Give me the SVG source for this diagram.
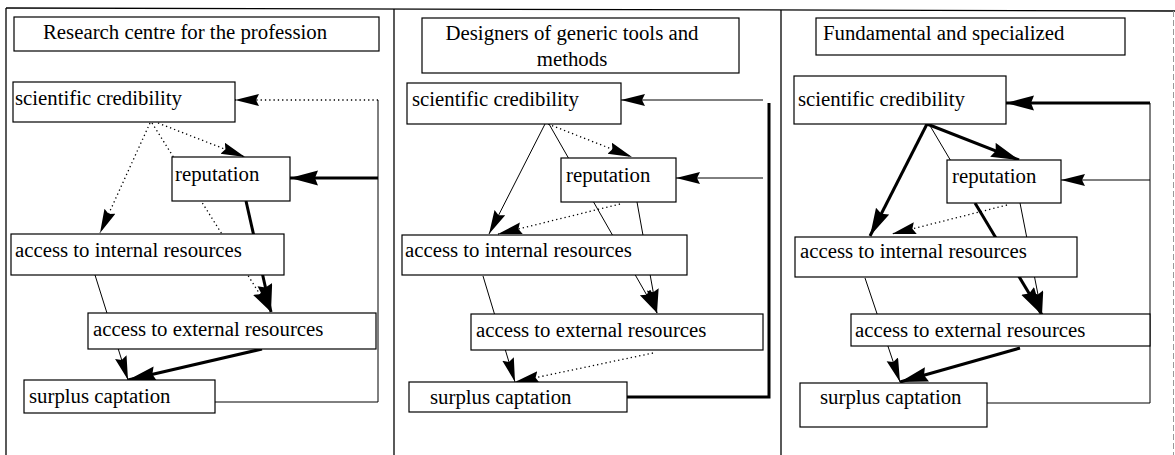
<svg xmlns="http://www.w3.org/2000/svg" width="1175" height="455" viewBox="0 0 1175 455">
<style>
  .frame{stroke:#000;stroke-width:1.3;fill:none}
  .box{fill:#fff;stroke:#000;stroke-width:1.2}
  .t{font-family:"Liberation Serif","Times New Roman",serif;font-size:20.8px;fill:#000}
  .thin{stroke:#000;stroke-width:1;fill:none}
  .thick{stroke:#000;stroke-width:3;fill:none}
  .dot{stroke:#000;stroke-width:1.3;stroke-dasharray:1.3 3;fill:none}
  .sm{marker-end:url(#ahs)}
  .bg{marker-end:url(#ahb)}
</style>
<defs>
  <marker id="ahs" markerUnits="userSpaceOnUse" markerWidth="26" markerHeight="14" refX="24" refY="6" orient="auto">
    <path d="M0,0 L24,6 L0,12 L3,6 Z" fill="#000"/>
  </marker>
  <marker id="ahb" markerUnits="userSpaceOnUse" markerWidth="30" markerHeight="16" refX="28" refY="7.5" orient="auto">
    <path d="M0,0 L28,7.5 L0,15 L3,7.5 Z" fill="#000"/>
  </marker>
</defs>
<rect width="1175" height="455" fill="#fff"/>
<g id="frame">
  <line class="frame" x1="6" y1="8" x2="1175" y2="11"/>
  <line class="frame" x1="6" y1="8" x2="6" y2="455"/>
  <line class="frame" x1="394" y1="9" x2="394" y2="455"/>
  <line class="frame" x1="781" y1="10" x2="781" y2="455"/>
  <line x1="1173.5" y1="11" x2="1173.5" y2="455" stroke="#999" stroke-width="1" stroke-dasharray="6 3"/>
</g>
<g id="connectors">
  <!-- panel 1 -->
  <path class="thin" d="M215,402 H378 V100"/>
  <path class="dot sm" d="M378,100 H235"/>
  <path class="thick bg" d="M378,178 H290"/>
  <path class="dot sm" d="M150,123 L100,233"/>
  <path class="dot sm" d="M158,123 L245,157"/>
  <path class="dot sm" d="M152,123 L271,312"/>
  <path class="thick bg" d="M246,201 L271,312"/>
  <path class="thin sm" d="M95,275 L128,380"/>
  <path class="thick bg" d="M262,349 L128,380"/>
  <!-- panel 2 -->
  <path class="thick" d="M627,397 H769 V103"/>
  <path class="thin sm" d="M763,100 H621"/>
  <path class="thin sm" d="M763,178 H676"/>
  <path class="thin sm" d="M545,124 L489,234"/>
  <path class="dot sm" d="M548,124 L632,157"/>
  <path class="thin sm" d="M549,124 L657,313"/>
  <path class="thin sm" d="M637,202 L657,313"/>
  <path class="dot sm" d="M620,204 L498,234"/>
  <path class="thin sm" d="M483,276 L515,382"/>
  <path class="dot sm" d="M653,353 L515,382"/>
  <!-- panel 3 -->
  <path class="thin" d="M987,403 H1150 V103"/>
  <path class="thick bg" d="M1150,103 H1006"/>
  <path class="thin sm" d="M1150,180 H1061"/>
  <path class="thick bg" d="M927,124 L870,236"/>
  <path class="thick bg" d="M927,124 L1019,160"/>
  <path class="thin" d="M929,124 L1042,315"/>
  <path class="thick bg" d="M975,203 L1042,315"/>
  <path class="thin sm" d="M1020,203 L1042,315"/>
  <path class="dot sm" d="M1007,205 L892,234"/>
  <path class="thin sm" d="M865,278 L900,382"/>
  <path class="thick bg" d="M1020,348 L900,382"/>
</g>
<g id="p1-title"><rect class="box" x="14" y="17" width="365" height="34"/><text class="t" x="43" y="39">Research centre for the profession</text></g>
<g id="p1-sc"><rect class="box" x="13" y="82" width="222" height="40"/><text class="t" x="15" y="105">scientific credibility</text></g>
<g id="p1-rep"><rect class="box" x="172" y="157" width="118" height="44"/><text class="t" x="175" y="181">reputation</text></g>
<g id="p1-int"><rect class="box" x="11" y="234" width="273" height="41"/><text class="t" x="15" y="257">access to internal resources</text></g>
<g id="p1-ext"><rect class="box" x="88" y="313" width="288" height="36"/><text class="t" x="93" y="336">access to external resources</text></g>
<g id="p1-sur"><rect class="box" x="24" y="380" width="191" height="33"/><text class="t" x="29" y="403">surplus captation</text></g>

<g id="p2-title"><rect class="box" x="422" y="18" width="317" height="55"/><text class="t" x="572" y="40" text-anchor="middle">Designers of generic tools and</text><text class="t" x="572" y="66" text-anchor="middle">methods</text></g>
<g id="p2-sc"><rect class="box" x="407" y="83" width="214" height="41"/><text class="t" x="412" y="106">scientific credibility</text></g>
<g id="p2-rep"><rect class="box" x="561" y="158" width="115" height="44"/><text class="t" x="566" y="182">reputation</text></g>
<g id="p2-int"><rect class="box" x="402" y="235" width="285" height="40"/><text class="t" x="405" y="257">access to internal resources</text></g>
<g id="p2-ext"><rect class="box" x="471" y="314" width="292" height="36"/><text class="t" x="476" y="337">access to external resources</text></g>
<g id="p2-sur"><rect class="box" x="409" y="382" width="218" height="30"/><text class="t" x="430" y="404">surplus captation</text></g>

<g id="p3-title"><rect class="box" x="816" y="18" width="309" height="37"/><text class="t" x="823" y="40">Fundamental and specialized</text></g>
<g id="p3-sc"><rect class="box" x="794" y="76" width="212" height="48"/><text class="t" x="798" y="106">scientific credibility</text></g>
<g id="p3-rep"><rect class="box" x="947" y="160" width="114" height="43"/><text class="t" x="952" y="183">reputation</text></g>
<g id="p3-int"><rect class="box" x="795" y="237" width="282" height="40"/><text class="t" x="800" y="258">access to internal resources</text></g>
<g id="p3-ext"><rect class="box" x="851" y="314" width="299" height="32"/><text class="t" x="855" y="337">access to external resources</text></g>
<g id="p3-sur"><rect class="box" x="800" y="383" width="187" height="44"/><text class="t" x="820" y="404">surplus captation</text></g>
</svg>
